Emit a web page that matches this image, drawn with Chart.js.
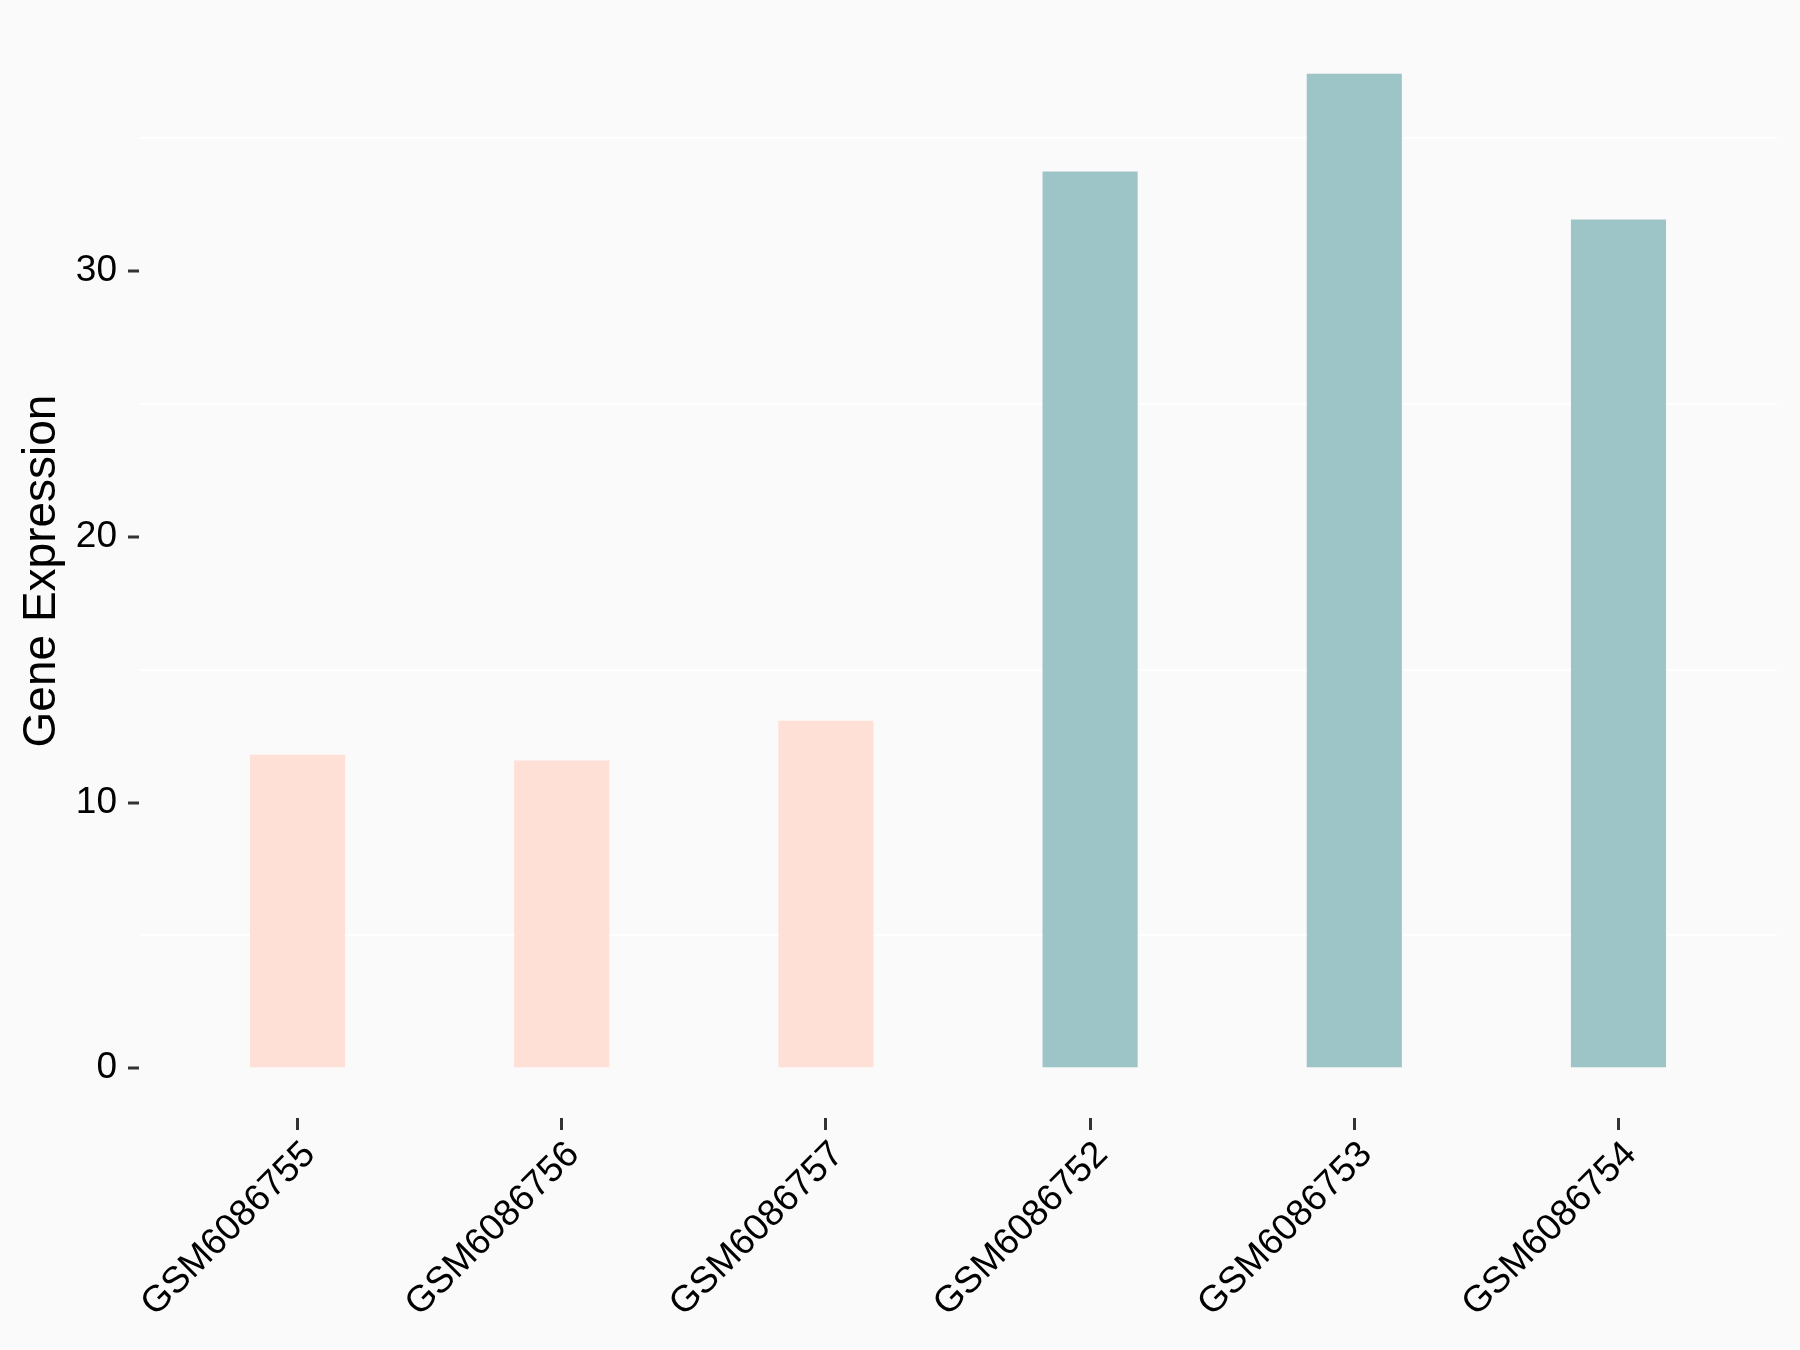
<!DOCTYPE html>
<html>
<head>
<meta charset="utf-8">
<script src="https://cdn.jsdelivr.net/npm/chart.js@4.4.1/dist/chart.umd.min.js"></script>
<style>
  html, body { margin: 0; padding: 0; background: #FAFAFA; }
  canvas { display: block; }
</style>
</head>
<body>
<canvas id="c" width="1800" height="1350"></canvas>
<script>
const categories = ["GSM6086755", "GSM6086756", "GSM6086757", "GSM6086752", "GSM6086753", "GSM6086754"];
const values = [11.8, 11.58, 13.08, 33.75, 37.43, 31.94];
const groups = ["A", "A", "A", "B", "B", "B"];
const groupColors = { A: "#FEE0D6", B: "#9DC4C7" };
const yLabelTicks = [0, 10, 20, 30];
const yGridTicks = [5, 15, 25, 35];

const dataMax = Math.max(...values);
const expand = dataMax * 0.05;

const bgPlugin = {
  id: 'bg',
  beforeDraw(chart) {
    const ctx = chart.ctx;
    ctx.save();
    ctx.fillStyle = '#FAFAFA';
    ctx.fillRect(0, 0, chart.width, chart.height);
    ctx.restore();
  }
};

const font = "'Liberation Sans', Arial, sans-serif";

new Chart(document.getElementById('c'), {
  type: 'bar',
  data: {
    datasets: [{
      data: categories.map((c, i) => ({ x: i, y: values[i] })),
      backgroundColor: groups.map(g => groupColors[g]),
      borderWidth: 0,
      barPercentage: 0.36,
      categoryPercentage: 1.0
    }]
  },
  plugins: [bgPlugin],
  options: {
    responsive: false,
    devicePixelRatio: 1,
    animation: false,
    layout: { padding: { left: 0, right: 23, top: 24, bottom: 0 } },
    plugins: { legend: { display: false }, tooltip: { enabled: false } },
    scales: {
      x: {
        type: 'linear',
        offset: false,
        min: -0.6,
        max: categories.length - 1 + 0.6,
        afterBuildTicks(scale) { scale.ticks = categories.map((c, i) => ({ value: i })); },
        afterFit(scale) { scale.height = 232; scale.paddingLeft = 0; scale.paddingRight = 0; },
        border: { display: false },
        grid: { offset: false, drawOnChartArea: false, drawTicks: true, tickLength: 12, tickColor: '#333333', tickWidth: 3 },
        ticks: {
          autoSkip: false,
          maxRotation: 45,
          minRotation: 45,
          padding: 3,
          labelOffset: 12,
          color: '#000000',
          font: { family: font, size: 37 },
          callback: (v) => categories[v]
        }
      },
      y: {
        type: 'linear',
        min: -expand,
        max: dataMax + expand,
        afterBuildTicks(scale) {
          scale.ticks = [...yLabelTicks, ...yGridTicks].sort((a, b) => a - b).map(v => ({ value: v }));
        },
        afterFit(scale) { scale.width = 139; scale.paddingTop = 0; scale.paddingBottom = 0; },
        border: { display: false },
        grid: {
          drawTicks: true,
          tickLength: 11,
          lineWidth: 2,
          tickWidth: 3,
          color: (ctx) => (ctx.tick && yGridTicks.includes(ctx.tick.value)) ? '#FFFFFF' : 'rgba(0,0,0,0)',
          tickColor: (ctx) => (ctx.tick && yLabelTicks.includes(ctx.tick.value)) ? '#333333' : 'rgba(0,0,0,0)'
        },
        ticks: {
          padding: 11,
          color: '#000000',
          font: { family: font, size: 37 },
          callback: (v) => yLabelTicks.includes(v) ? String(v) : ''
        },
        title: {
          display: true,
          text: 'Gene Expression',
          color: '#000000',
          font: { family: font, size: 46, lineHeight: 1 },
          padding: { top: 19, bottom: 0 }
        }
      }
    }
  }
});
</script>
</body>
</html>
